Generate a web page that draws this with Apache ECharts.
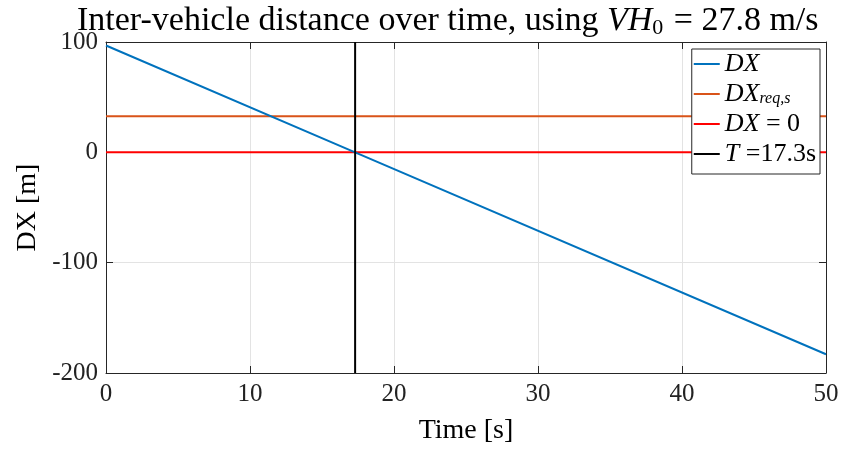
<!DOCTYPE html>
<html>
<head>
<meta charset="utf-8">
<script src="https://cdn.jsdelivr.net/npm/echarts@6/dist/echarts.min.js"></script>
<style>
  html, body { margin: 0; padding: 0; background: #fff; }
  #chart { width: 843px; height: 454px; }
</style>
</head>
<body>
<div id="chart"></div>
<script>
// Time axis ticks and value axis ticks
const timeTicks = [0, 10, 20, 30, 40, 50];
const dxTicks = [-200, -100, 0, 100];

// Inter-vehicle distance DX over time [s, m]
const dxSeries = [[0, 96.8], [17.3, 0], [50, -183]];
// Required safe distance DX_req,s [m]
const dxReq = [[0, 32.8], [50, 32.8]];
// Zero line
const dxZero = [[0, 0], [50, 0]];
// Crossing time T [s]
const crossTime = 17.3;
const crossLine = [[crossTime, -200], [crossTime, 100]];

const FONT = 'Liberation Serif';
const AX = '#262626';

const chart = echarts.init(document.getElementById('chart'));
chart.setOption({
  animation: false,
  backgroundColor: '#fff',
  title: {
    text: '{n|Inter-vehicle distance over time, using }{i|VH}{s|0}{n| = 27.8 m/s}',
    left: 72,
    top: -2,
    textStyle: {
      fontWeight: 'normal',
      rich: {
        n: { fontFamily: FONT, fontSize: 34, fontWeight: 'normal', color: '#000' },
        i: { fontFamily: FONT, fontSize: 34, fontWeight: 'normal', fontStyle: 'italic', color: '#000' },
        s: { fontFamily: FONT, fontSize: 22, fontWeight: 'normal', color: '#000', verticalAlign: 'bottom', padding: [14, 2, 0, 0] }
      }
    }
  },
  grid: { left: 106, right: 17, top: 42, bottom: 81 },
  legend: {
    orient: 'vertical',
    right: 23,
    top: 49,
    padding: [2, 4, 7, 2],
    itemGap: 4,
    itemWidth: 26,
    itemHeight: 2,
    icon: 'rect',
    borderColor: AX,
    borderWidth: 1,
    backgroundColor: '#fff',
    data: ['DX', 'DXreq', 'DX0', 'T'],
    formatter: function (name) {
      if (name === 'DX') return '{i|DX}';
      if (name === 'DXreq') return '{i|DX}{s|req,s}';
      if (name === 'DX0') return '{i|DX}{n| = 0}';
      return '{i|T}{n| =' + crossTime + 's}';
    },
    textStyle: {
      rich: {
        n: { fontFamily: FONT, fontSize: 26, color: '#000', height: 23 },
        i: { fontFamily: FONT, fontSize: 26, fontStyle: 'italic', color: '#000', height: 23 },
        s: { fontFamily: FONT, fontSize: 16, fontStyle: 'italic', color: '#000', verticalAlign: 'bottom', padding: [10, 0, 0, 0] }
      }
    }
  },
  xAxis: [{
    type: 'value',
    min: 0, max: 50, interval: 10,
    name: 'Time [s]',
    nameLocation: 'middle',
    nameGap: 44,
    nameTextStyle: { fontFamily: FONT, fontSize: 28, color: '#000' },
    axisLine: { onZero: false, lineStyle: { color: AX, width: 1 } },
    axisTick: { inside: true, length: 7, lineStyle: { color: AX } },
    axisLabel: { fontFamily: FONT, fontSize: 25, color: '#222', margin: 9,
      formatter: v => timeTicks.includes(v) ? String(v) : '' },
    splitLine: { show: true, lineStyle: { color: '#e3e3e3', width: 1 } }
  }, {
    type: 'value', position: 'top',
    min: 0, max: 50, interval: 10,
    axisLine: { onZero: false, lineStyle: { color: AX, width: 1 } },
    axisTick: { inside: true, length: 7, lineStyle: { color: AX } },
    axisLabel: { show: false },
    splitLine: { show: false }
  }],
  yAxis: [{
    type: 'value',
    min: -200, max: 100, interval: 100,
    name: 'DX [m]',
    nameLocation: 'middle',
    nameGap: 64,
    nameTextStyle: { fontFamily: FONT, fontSize: 28, color: '#000' },
    axisLine: { onZero: false, lineStyle: { color: AX, width: 1 } },
    axisTick: { inside: true, length: 7, lineStyle: { color: AX } },
    axisLabel: { fontFamily: FONT, fontSize: 25, color: '#222', margin: 8,
      formatter: v => dxTicks.includes(v) ? String(v) : '' },
    splitLine: { show: true, lineStyle: { color: '#e3e3e3', width: 1 } }
  }, {
    type: 'value', position: 'right',
    min: -200, max: 100, interval: 100,
    axisLine: { onZero: false, lineStyle: { color: AX, width: 1 } },
    axisTick: { inside: true, length: 7, lineStyle: { color: AX } },
    axisLabel: { show: false },
    splitLine: { show: false }
  }],
  series: [
    { name: 'DX', type: 'line', data: dxSeries, symbol: 'none', z: 3,
      lineStyle: { color: '#0072BD', width: 2 }, itemStyle: { color: '#0072BD' } },
    { name: 'DXreq', type: 'line', data: dxReq, symbol: 'none', z: 2,
      lineStyle: { color: '#D95319', width: 2 }, itemStyle: { color: '#D95319' } },
    { name: 'DX0', type: 'line', data: dxZero, symbol: 'none', z: 2,
      lineStyle: { color: '#FF0000', width: 2 }, itemStyle: { color: '#FF0000' } },
    { name: 'T', type: 'line', data: crossLine, symbol: 'none', z: 4,
      lineStyle: { color: '#000', width: 2 }, itemStyle: { color: '#000' } }
  ]
});
</script>
</body>
</html>
